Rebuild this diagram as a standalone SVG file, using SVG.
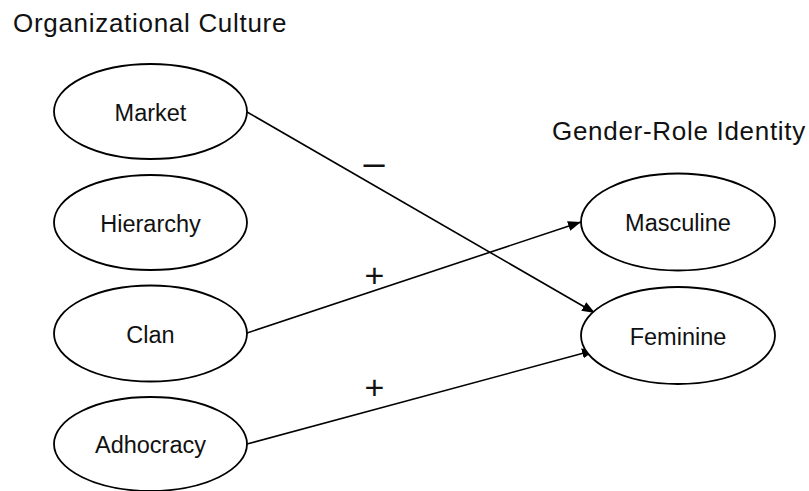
<svg xmlns="http://www.w3.org/2000/svg" width="809" height="491" viewBox="0 0 809 491">
<style>
  .node ellipse { fill: #ffffff; stroke: #000000; stroke-width: 1.8; }
  .label { font-family: "Liberation Sans", Arial, sans-serif; font-size: 23.5px; fill: #111111; text-anchor: middle; }
  .title { font-family: "Liberation Sans", Arial, sans-serif; font-size: 26px; letter-spacing: 0.7px; fill: #111111; }
  .edge { stroke: #000000; stroke-width: 1.6; fill: none; marker-end: url(#arrow); }
  .sign { font-family: "Liberation Sans", Arial, sans-serif; font-size: 34px; fill: #111111; text-anchor: middle; }
</style>
<defs>
  <marker id="arrow" markerUnits="userSpaceOnUse" markerWidth="14" markerHeight="12" refX="13" refY="6" orient="auto">
    <path d="M0,1 L13,6 L0,11 Z" fill="#000000"/>
  </marker>
</defs>
<rect width="809" height="491" fill="#ffffff"/>
<text class="title" x="13" y="32">Organizational Culture</text>
<text class="title" x="552" y="140">Gender-Role Identity</text>

<g id="connectors">
  <line class="edge" x1="247" y1="112" x2="595" y2="313"/>
  <line class="edge" x1="247" y1="333" x2="581" y2="222"/>
  <line class="edge" x1="247" y1="444" x2="595" y2="350"/>
  <text class="sign" x="374" y="176" style="font-size:38px">–</text>
  <text class="sign" x="374.5" y="287">+</text>
  <text class="sign" x="374.5" y="399">+</text>
</g>

<g id="market" class="node">
  <ellipse cx="150.5" cy="111.5" rx="96.5" ry="47.5"/>
  <text class="label" x="150.5" y="121">Market</text>
</g>
<g id="hierarchy" class="node">
  <ellipse cx="150.5" cy="222.5" rx="96.5" ry="47.5"/>
  <text class="label" x="150.5" y="231.5">Hierarchy</text>
</g>
<g id="clan" class="node">
  <ellipse cx="150.5" cy="333.5" rx="96.5" ry="48"/>
  <text class="label" x="150.5" y="342.5">Clan</text>
</g>
<g id="adhocracy" class="node">
  <ellipse cx="150.5" cy="444" rx="96.5" ry="47"/>
  <text class="label" x="150.5" y="453">Adhocracy</text>
</g>
<g id="masculine" class="node">
  <ellipse cx="678" cy="222" rx="97" ry="48.5"/>
  <text class="label" x="678" y="231">Masculine</text>
</g>
<g id="feminine" class="node">
  <ellipse cx="678" cy="335.5" rx="97" ry="48.5"/>
  <text class="label" x="678" y="344.5">Feminine</text>
</g>
</svg>
